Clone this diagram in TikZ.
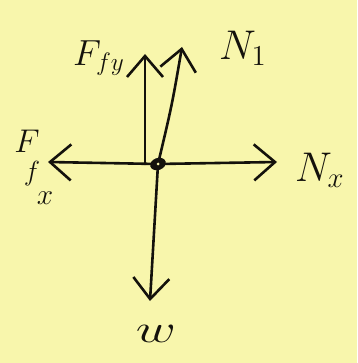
\documentclass[tikz,border=0pt]{standalone}
\usepackage{amsmath}
\usepackage{graphicx}
\usetikzlibrary{arrows.meta,shapes.geometric}
\definecolor{paper}{RGB}{248,246,172}
\definecolor{ink}{RGB}{20,18,12}
\newcommand{\lab}[2][2.1]{\scalebox{#1}{\LARGE$#2$}}
\begin{document}
\begin{tikzpicture}[x=1pt,y=-1pt,
  vec/.style={draw=ink,line width=2.6pt,line cap=round,
    -{Straight Barb[length=21pt,width=36pt,line width=2.6pt]}},
  lbl/.style={text=ink,inner sep=0pt}]
\fill[paper] (0,0) rectangle (357,363);
\useasboundingbox (0,0) rectangle (357,363);
\coordinate (c) at (158,164);
\coordinate (cl) at (145,164);
\coordinate (tl) at (48,162);
\coordinate (tr) at (277,162);
\coordinate (tu1) at (145,54);
\coordinate (tu2) at (182,47);
\coordinate (td) at (150,301);
\draw[vec] (c) -- (tl);
\draw[vec] (c) -- (tr);
\draw[vec] (cl) -- (tu1);
\draw[vec] (c) .. controls (172,105) .. (tu2);
\draw[vec] (c) -- (td);
\node[fill=ink,ellipse,minimum width=16pt,minimum height=12pt,inner sep=0pt,rotate=20] (dot) at (c) {};
\node[fill=paper,circle,minimum size=3pt,inner sep=0pt] (hole) at (c) {};
\node[lbl] (ffy) at (99,58) {\lab{F_{fy}}};
\node[lbl] (n1) at (243,48) {\lab[2.4]{N_1}};
\node[lbl] (nx) at (320,170) {\lab[2.4]{N_x}};
\node[lbl] (ffx) at (27,141) {\lab[1.9]{F}};
\node[lbl] (ffxf) at (32,174) {\lab[1.6]{f}};
\node[lbl] (ffxx) at (45,198) {\lab[1.7]{x}};
\node[lbl] (w) at (156,334) {\scalebox{3.2}[2.3]{\LARGE$w$}};
\end{tikzpicture}
\end{document}
